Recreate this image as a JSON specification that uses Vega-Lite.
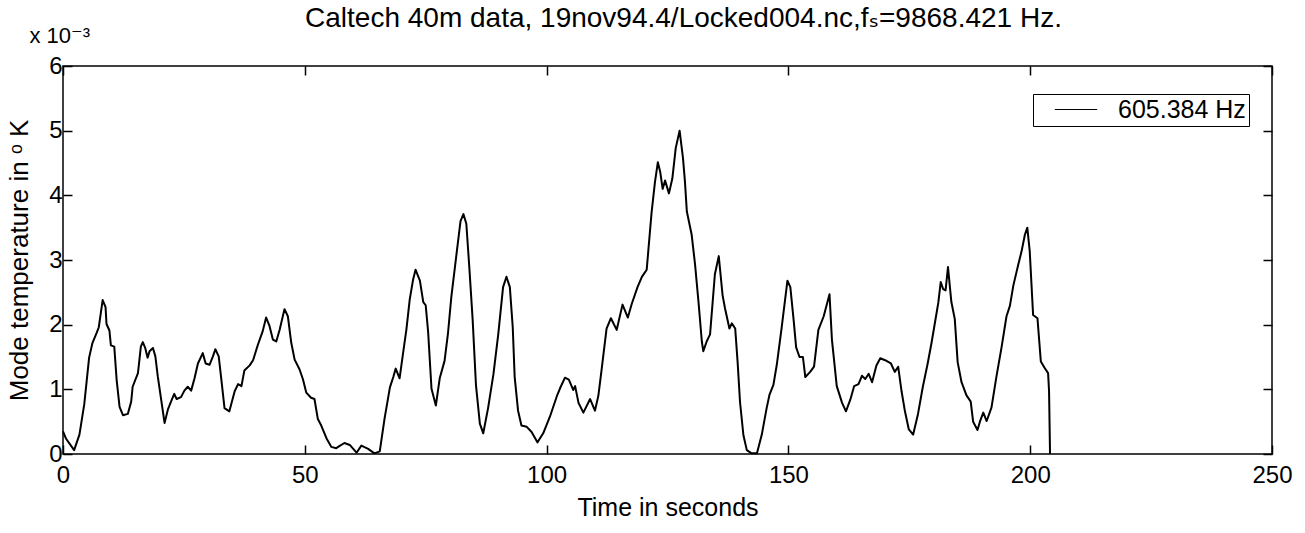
{
  "$schema": "https://vega.github.io/schema/vega-lite/v6.json",
  "width": 1209,
  "height": 388,
  "autosize": {"type": "none"},
  "padding": {"left": 63, "top": 66, "right": 33, "bottom": 79},
  "background": "white",
  "config": {
    "font": "Liberation Sans, Arial, DejaVu Sans, sans-serif",
    "view": {"stroke": "black", "strokeWidth": 1.5},
    "axis": {
      "grid": false,
      "domain": false,
      "tickColor": "black",
      "tickWidth": 1.5,
      "tickSize": -9,
      "labelColor": "black",
      "labelFont": "Liberation Sans, Arial, DejaVu Sans, sans-serif",
      "labelFontSize": 24,
      "titleColor": "black",
      "titleFont": "Liberation Sans, Arial, DejaVu Sans, sans-serif",
      "titleFontWeight": "normal",
      "titleFontSize": 25
    }
  },
  "title": {
    "text": "Caltech 40m data, 19nov94.4/Locked004.nc,fₛ=9868.421 Hz.",
    "font": "Liberation Sans, Arial, DejaVu Sans, sans-serif",
    "fontSize": 28,
    "fontWeight": "normal",
    "color": "black",
    "anchor": "middle",
    "frame": "group",
    "baseline": "alphabetic",
    "offset": -31,
    "dx": 16
  },
  "datasets": {
    "trace": [
      {"t": 0, "v": 0.35}, {"t": 0.6, "v": 0.24}, {"t": 2.3, "v": 0.06}, {"t": 3.4, "v": 0.3},
      {"t": 4.4, "v": 0.77}, {"t": 5.4, "v": 1.49}, {"t": 6.1, "v": 1.72}, {"t": 7.0, "v": 1.88},
      {"t": 7.4, "v": 1.96}, {"t": 8.2, "v": 2.38}, {"t": 8.8, "v": 2.27}, {"t": 9.0, "v": 2.01},
      {"t": 9.6, "v": 1.91}, {"t": 9.9, "v": 1.68}, {"t": 10.6, "v": 1.66}, {"t": 11.1, "v": 1.14},
      {"t": 11.7, "v": 0.73}, {"t": 12.4, "v": 0.6}, {"t": 13.4, "v": 0.62}, {"t": 14.1, "v": 0.81},
      {"t": 14.4, "v": 1.04}, {"t": 15.5, "v": 1.25}, {"t": 16.1, "v": 1.66}, {"t": 16.5, "v": 1.73},
      {"t": 17.0, "v": 1.64}, {"t": 17.5, "v": 1.49}, {"t": 17.9, "v": 1.59}, {"t": 18.6, "v": 1.64},
      {"t": 19.1, "v": 1.51}, {"t": 19.6, "v": 1.2}, {"t": 20.3, "v": 0.84}, {"t": 21.0, "v": 0.48},
      {"t": 21.7, "v": 0.69}, {"t": 22.4, "v": 0.82}, {"t": 23.0, "v": 0.93}, {"t": 23.5, "v": 0.85},
      {"t": 24.4, "v": 0.88}, {"t": 25.1, "v": 0.98}, {"t": 25.8, "v": 1.04}, {"t": 26.5, "v": 0.98},
      {"t": 27.2, "v": 1.17}, {"t": 27.9, "v": 1.4}, {"t": 28.9, "v": 1.56}, {"t": 29.5, "v": 1.4},
      {"t": 30.3, "v": 1.38}, {"t": 31.0, "v": 1.51}, {"t": 31.5, "v": 1.62}, {"t": 32.2, "v": 1.51},
      {"t": 32.7, "v": 1.18}, {"t": 33.4, "v": 0.71}, {"t": 34.4, "v": 0.66}, {"t": 35.5, "v": 0.97},
      {"t": 36.2, "v": 1.08}, {"t": 36.9, "v": 1.05}, {"t": 37.5, "v": 1.29}, {"t": 38.6, "v": 1.37},
      {"t": 39.3, "v": 1.45}, {"t": 40.3, "v": 1.69}, {"t": 41.3, "v": 1.9}, {"t": 42.0, "v": 2.11},
      {"t": 42.7, "v": 1.98}, {"t": 43.4, "v": 1.77}, {"t": 44.1, "v": 1.74}, {"t": 44.8, "v": 1.92},
      {"t": 45.8, "v": 2.24}, {"t": 46.5, "v": 2.13}, {"t": 47.2, "v": 1.72}, {"t": 47.9, "v": 1.46},
      {"t": 48.9, "v": 1.31}, {"t": 49.6, "v": 1.16}, {"t": 50.3, "v": 0.95}, {"t": 51.3, "v": 0.87},
      {"t": 52.0, "v": 0.85}, {"t": 52.7, "v": 0.54}, {"t": 53.4, "v": 0.44}, {"t": 54.5, "v": 0.24},
      {"t": 55.5, "v": 0.11}, {"t": 56.5, "v": 0.09}, {"t": 57.3, "v": 0.13}, {"t": 58.2, "v": 0.17},
      {"t": 59.3, "v": 0.14}, {"t": 60.7, "v": 0.02}, {"t": 61.7, "v": 0.13}, {"t": 63.1, "v": 0.08},
      {"t": 64.4, "v": 0.01}, {"t": 65.5, "v": 0.04}, {"t": 66.5, "v": 0.55}, {"t": 67.6, "v": 1.03},
      {"t": 68.3, "v": 1.19}, {"t": 68.8, "v": 1.32}, {"t": 69.6, "v": 1.17}, {"t": 70.3, "v": 1.55},
      {"t": 71.0, "v": 1.92}, {"t": 71.7, "v": 2.39}, {"t": 72.4, "v": 2.7}, {"t": 72.9, "v": 2.85},
      {"t": 73.8, "v": 2.68}, {"t": 74.5, "v": 2.35}, {"t": 75.0, "v": 2.3}, {"t": 75.5, "v": 1.89},
      {"t": 76.2, "v": 1.01}, {"t": 77.1, "v": 0.75}, {"t": 77.9, "v": 1.17}, {"t": 78.9, "v": 1.44},
      {"t": 79.6, "v": 1.86}, {"t": 80.3, "v": 2.43}, {"t": 81.4, "v": 3.11}, {"t": 82.2, "v": 3.6},
      {"t": 82.8, "v": 3.71}, {"t": 83.4, "v": 3.56}, {"t": 84.0, "v": 2.91}, {"t": 84.7, "v": 2.09},
      {"t": 85.4, "v": 1.06}, {"t": 86.2, "v": 0.47}, {"t": 86.9, "v": 0.32}, {"t": 87.9, "v": 0.71},
      {"t": 89.0, "v": 1.23}, {"t": 90.0, "v": 1.85}, {"t": 91.0, "v": 2.58}, {"t": 91.7, "v": 2.74},
      {"t": 92.4, "v": 2.58}, {"t": 93.0, "v": 1.96}, {"t": 93.4, "v": 1.19}, {"t": 94.1, "v": 0.67},
      {"t": 94.8, "v": 0.44}, {"t": 95.9, "v": 0.42}, {"t": 96.9, "v": 0.34}, {"t": 98.1, "v": 0.18},
      {"t": 99.3, "v": 0.32}, {"t": 100.7, "v": 0.58}, {"t": 102.1, "v": 0.89}, {"t": 102.8, "v": 1.02},
      {"t": 103.8, "v": 1.18}, {"t": 104.6, "v": 1.15}, {"t": 105.5, "v": 0.99}, {"t": 105.9, "v": 1.05},
      {"t": 106.6, "v": 0.79}, {"t": 107.6, "v": 0.64}, {"t": 109.0, "v": 0.85}, {"t": 110.0, "v": 0.67},
      {"t": 110.7, "v": 0.9}, {"t": 111.4, "v": 1.32}, {"t": 112.4, "v": 1.94}, {"t": 113.3, "v": 2.1},
      {"t": 114.5, "v": 1.92}, {"t": 115.7, "v": 2.31}, {"t": 116.8, "v": 2.11}, {"t": 117.6, "v": 2.32},
      {"t": 118.8, "v": 2.58}, {"t": 119.7, "v": 2.74}, {"t": 120.7, "v": 2.85}, {"t": 121.7, "v": 3.73},
      {"t": 122.4, "v": 4.2}, {"t": 123.0, "v": 4.51}, {"t": 123.5, "v": 4.36}, {"t": 124.0, "v": 4.1},
      {"t": 124.5, "v": 4.23}, {"t": 125.3, "v": 4.03}, {"t": 126.0, "v": 4.26}, {"t": 126.7, "v": 4.73},
      {"t": 127.5, "v": 5.0}, {"t": 128.2, "v": 4.58}, {"t": 128.6, "v": 4.22}, {"t": 129.0, "v": 3.75},
      {"t": 130.0, "v": 3.39}, {"t": 130.7, "v": 2.93}, {"t": 131.4, "v": 2.36}, {"t": 132.1, "v": 1.74},
      {"t": 132.4, "v": 1.59}, {"t": 133.1, "v": 1.74}, {"t": 133.8, "v": 1.85}, {"t": 134.8, "v": 2.78},
      {"t": 135.6, "v": 3.06}, {"t": 136.4, "v": 2.45}, {"t": 136.9, "v": 2.25}, {"t": 137.8, "v": 1.94},
      {"t": 138.3, "v": 2.02}, {"t": 139.0, "v": 1.94}, {"t": 139.5, "v": 1.42}, {"t": 140.0, "v": 0.8},
      {"t": 140.7, "v": 0.29}, {"t": 141.4, "v": 0.06}, {"t": 142.4, "v": 0.01}, {"t": 143.5, "v": 0.01},
      {"t": 144.5, "v": 0.3}, {"t": 145.5, "v": 0.71}, {"t": 146.1, "v": 0.92}, {"t": 146.9, "v": 1.07},
      {"t": 147.6, "v": 1.38}, {"t": 148.6, "v": 1.95}, {"t": 149.8, "v": 2.68}, {"t": 150.4, "v": 2.58},
      {"t": 151.1, "v": 2.06}, {"t": 151.6, "v": 1.65}, {"t": 152.3, "v": 1.5}, {"t": 153.0, "v": 1.5},
      {"t": 153.5, "v": 1.19}, {"t": 154.5, "v": 1.27}, {"t": 155.3, "v": 1.35}, {"t": 156.2, "v": 1.92},
      {"t": 157.3, "v": 2.13}, {"t": 158.5, "v": 2.47}, {"t": 159.0, "v": 1.77}, {"t": 160.0, "v": 1.05},
      {"t": 161.1, "v": 0.79}, {"t": 161.9, "v": 0.66}, {"t": 162.8, "v": 0.84}, {"t": 163.6, "v": 1.05},
      {"t": 164.5, "v": 1.08}, {"t": 165.2, "v": 1.21}, {"t": 165.9, "v": 1.16}, {"t": 166.6, "v": 1.24},
      {"t": 167.3, "v": 1.11}, {"t": 168.2, "v": 1.37}, {"t": 169.0, "v": 1.48}, {"t": 170.0, "v": 1.45},
      {"t": 171.2, "v": 1.4}, {"t": 172.0, "v": 1.27}, {"t": 172.7, "v": 1.35}, {"t": 173.4, "v": 0.97},
      {"t": 174.1, "v": 0.66}, {"t": 174.9, "v": 0.38}, {"t": 175.8, "v": 0.3}, {"t": 176.8, "v": 0.62},
      {"t": 177.8, "v": 1.04}, {"t": 178.8, "v": 1.4}, {"t": 179.6, "v": 1.72}, {"t": 180.3, "v": 2.03},
      {"t": 181.0, "v": 2.34}, {"t": 181.5, "v": 2.66}, {"t": 182.0, "v": 2.55}, {"t": 182.5, "v": 2.53},
      {"t": 183.0, "v": 2.89}, {"t": 183.7, "v": 2.35}, {"t": 184.4, "v": 2.09}, {"t": 185.0, "v": 1.42},
      {"t": 185.8, "v": 1.11}, {"t": 186.8, "v": 0.91}, {"t": 187.7, "v": 0.81}, {"t": 188.2, "v": 0.5},
      {"t": 189.1, "v": 0.37}, {"t": 189.6, "v": 0.5}, {"t": 190.3, "v": 0.64}, {"t": 191.0, "v": 0.51},
      {"t": 192.0, "v": 0.72}, {"t": 193.0, "v": 1.19}, {"t": 194.1, "v": 1.66}, {"t": 195.1, "v": 2.13},
      {"t": 195.8, "v": 2.29}, {"t": 196.5, "v": 2.6}, {"t": 197.5, "v": 2.92}, {"t": 198.2, "v": 3.13},
      {"t": 198.9, "v": 3.39}, {"t": 199.4, "v": 3.5}, {"t": 199.9, "v": 3.14}, {"t": 200.6, "v": 2.15},
      {"t": 201.5, "v": 2.1}, {"t": 202.2, "v": 1.43}, {"t": 203.0, "v": 1.33}, {"t": 203.7, "v": 1.25},
      {"t": 203.9, "v": 0.97}, {"t": 204.1, "v": 0.0}
    ]
  },
  "layer": [
    {
      "data": {"name": "trace"},
      "mark": {"type": "line", "strokeWidth": 2, "strokeJoin": "round"},
      "encoding": {
        "x": {
          "field": "t",
          "type": "quantitative",
          "scale": {"domain": [0, 250], "nice": false, "zero": false},
          "axis": {
            "orient": "bottom",
            "values": [0, 50, 100, 150, 200, 250],
            "labelPadding": 18,
            "labelFlush": false,
            "title": "Time in seconds",
            "titlePadding": 8
          }
        },
        "y": {
          "field": "v",
          "type": "quantitative",
          "scale": {"domain": [0, 6], "nice": false},
          "axis": {
            "orient": "left",
            "values": [0, 1, 2, 3, 4, 5, 6],
            "labelPadding": 10,
            "labelFlush": false,
            "title": "Mode temperature in ᵒ K",
            "titleFontSize": 26,
            "titlePadding": 16
          }
        },
        "color": {
          "datum": "605.384 Hz",
          "type": "nominal",
          "scale": {"range": ["black"]},
          "legend": {
            "orient": "none",
            "legendX": 970,
            "legendY": 28,
            "title": null,
            "symbolType": "stroke",
            "symbolSize": 1800,
            "symbolStrokeWidth": 1,
            "symbolOffset": 18,
            "labelFontSize": 25,
            "labelColor": "black",
            "labelOffset": 20,
            "clipHeight": 25,
            "strokeColor": "black",
            "fillColor": "white",
            "padding": 3
          }
        }
      }
    },
    {
      "mark": {"type": "point", "opacity": 0},
      "encoding": {
        "x": {
          "datum": 0,
          "type": "quantitative",
          "axis": {
            "orient": "top",
            "values": [0, 50, 100, 150, 200, 250],
            "labels": false,
            "title": "x 10⁻³",
            "titleFontSize": 22,
            "titleAnchor": "start",
            "titleAlign": "left",
            "titleBaseline": "alphabetic",
            "titleAngle": 0,
            "titleX": -34,
            "titleY": -24
          }
        },
        "y": {
          "datum": 6,
          "type": "quantitative",
          "axis": {"orient": "right", "values": [0, 1, 2, 3, 4, 5, 6], "labels": false, "title": null}
        }
      }
    }
  ],
  "resolve": {"axis": {"x": "independent", "y": "independent"}}
}
